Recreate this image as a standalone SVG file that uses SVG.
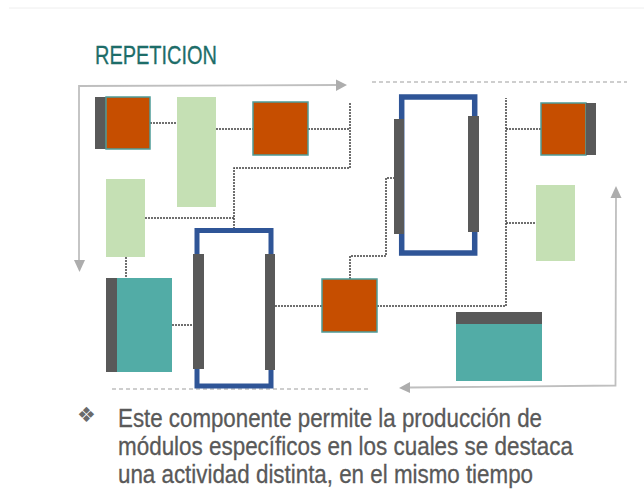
<svg xmlns="http://www.w3.org/2000/svg" width="644" height="500" viewBox="0 0 644 500">
<style>
.or{fill:#C64E00;stroke:#4E9C98;stroke-width:1.5}
.gr{fill:#C5E0B4}
.tl{fill:#52ACA6}
.dk{fill:#595959}
.fr{fill:none;stroke:#2F5597}
.cn{fill:none;stroke:#404040;stroke-width:1.5;stroke-dasharray:2 1}
.gl{fill:none;stroke:#BFBFBF;stroke-width:1.8}
.gd{fill:none;stroke:#BFBFBF;stroke-width:1.5;stroke-dasharray:4 3}
.ah{fill:#ADADAD}
.tx{font-family:"Liberation Sans",Arial,sans-serif;font-size:25.5px;fill:#595959;stroke:#595959;stroke-width:0.3}
</style>
<rect width="644" height="500" fill="#fff"/>
<line x1="9" y1="8" x2="644" y2="8" stroke="#EEEEEE" stroke-width="1"/>
<text x="95" y="63.5" font-family="Liberation Sans,Arial,sans-serif" font-size="25.5" fill="#1D6D69" stroke="#1D6D69" stroke-width="0.3" textLength="122" lengthAdjust="spacingAndGlyphs">REPETICION</text>

<g id="flow-arrows">
<path class="gl" d="M79,261 L79,86 L337,85"/>
<polygon class="ah" points="74,260 85,260 79.5,272"/>
<polygon class="ah" points="336,79.5 336,91 347,85"/>
<path class="gl" d="M616,198 L615.5,385.5 L410,387.5"/>
<polygon class="ah" points="610.5,198 621.5,198 616,186"/>
<polygon class="ah" points="410,382 410,393 399,388"/>
<line class="gd" x1="372" y1="82" x2="627" y2="82"/>
<line class="gd" x1="112" y1="389" x2="368" y2="389"/>
</g>

<g id="connectors">
<path class="cn" d="M150,123 H177"/>
<path class="cn" d="M216,129 H253"/>
<path class="cn" d="M308,129 H350"/>
<path class="cn" d="M350,103 V168 H234 V229"/>
<path class="cn" d="M145,218 H234"/>
<path class="cn" d="M126,257 V279"/>
<path class="cn" d="M172,325 H193"/>
<path class="cn" d="M275,306 H322"/>
<path class="cn" d="M350,279 V256 H386 V178 H394"/>
<path class="cn" d="M377,306 H506 V98"/>
<path class="cn" d="M506,129 H541"/>
<path class="cn" d="M506,223 H537"/>
</g>

<g id="orange1"><rect class="dk" x="95" y="97" width="11" height="52"/><rect class="or" x="106" y="97" width="44" height="52"/></g>
<g id="green1"><rect class="gr" x="177" y="97" width="39" height="110"/></g>
<g id="orange2"><rect class="or" x="253" y="102" width="55" height="53"/></g>
<g id="green2"><rect class="gr" x="106" y="179" width="39" height="78"/></g>
<g id="teal1"><rect class="dk" x="106" y="278" width="11" height="94"/><rect class="tl" x="117" y="278" width="55" height="94"/></g>
<g id="frame1"><rect class="fr" x="197" y="230.5" width="74" height="155.5" stroke-width="5"/><rect class="dk" x="193" y="254" width="11" height="115"/><rect class="dk" x="265" y="254" width="10" height="116"/></g>
<g id="orange3"><rect class="or" x="322" y="279" width="55" height="53"/></g>
<g id="frame2"><rect class="fr" x="401.7" y="97" width="73" height="156" stroke-width="5.5"/><rect class="dk" x="394" y="119" width="10" height="115"/><rect class="dk" x="468" y="116" width="11" height="116"/></g>
<g id="orange4"><rect class="or" x="541" y="103" width="45" height="52"/><rect class="dk" x="586" y="103" width="10" height="52"/></g>
<g id="green3"><rect class="gr" x="536" y="185" width="39" height="76"/></g>
<g id="teal2"><rect class="dk" x="456" y="312" width="86" height="12"/><rect class="tl" x="456" y="324" width="86" height="57"/></g>

<g id="bullet-text">
<text x="77" y="421.5" font-size="21" fill="#6A6A6A" font-family="DejaVu Sans,sans-serif">❖</text>
<text class="tx" x="118" y="426.5" textLength="424" lengthAdjust="spacingAndGlyphs">Este componente permite la producción de</text>
<text class="tx" x="118" y="454.5" textLength="455" lengthAdjust="spacingAndGlyphs">módulos específicos en los cuales se destaca</text>
<text class="tx" x="118" y="482.5" textLength="415" lengthAdjust="spacingAndGlyphs">una actividad distinta, en el mismo tiempo</text>
</g>
</svg>
